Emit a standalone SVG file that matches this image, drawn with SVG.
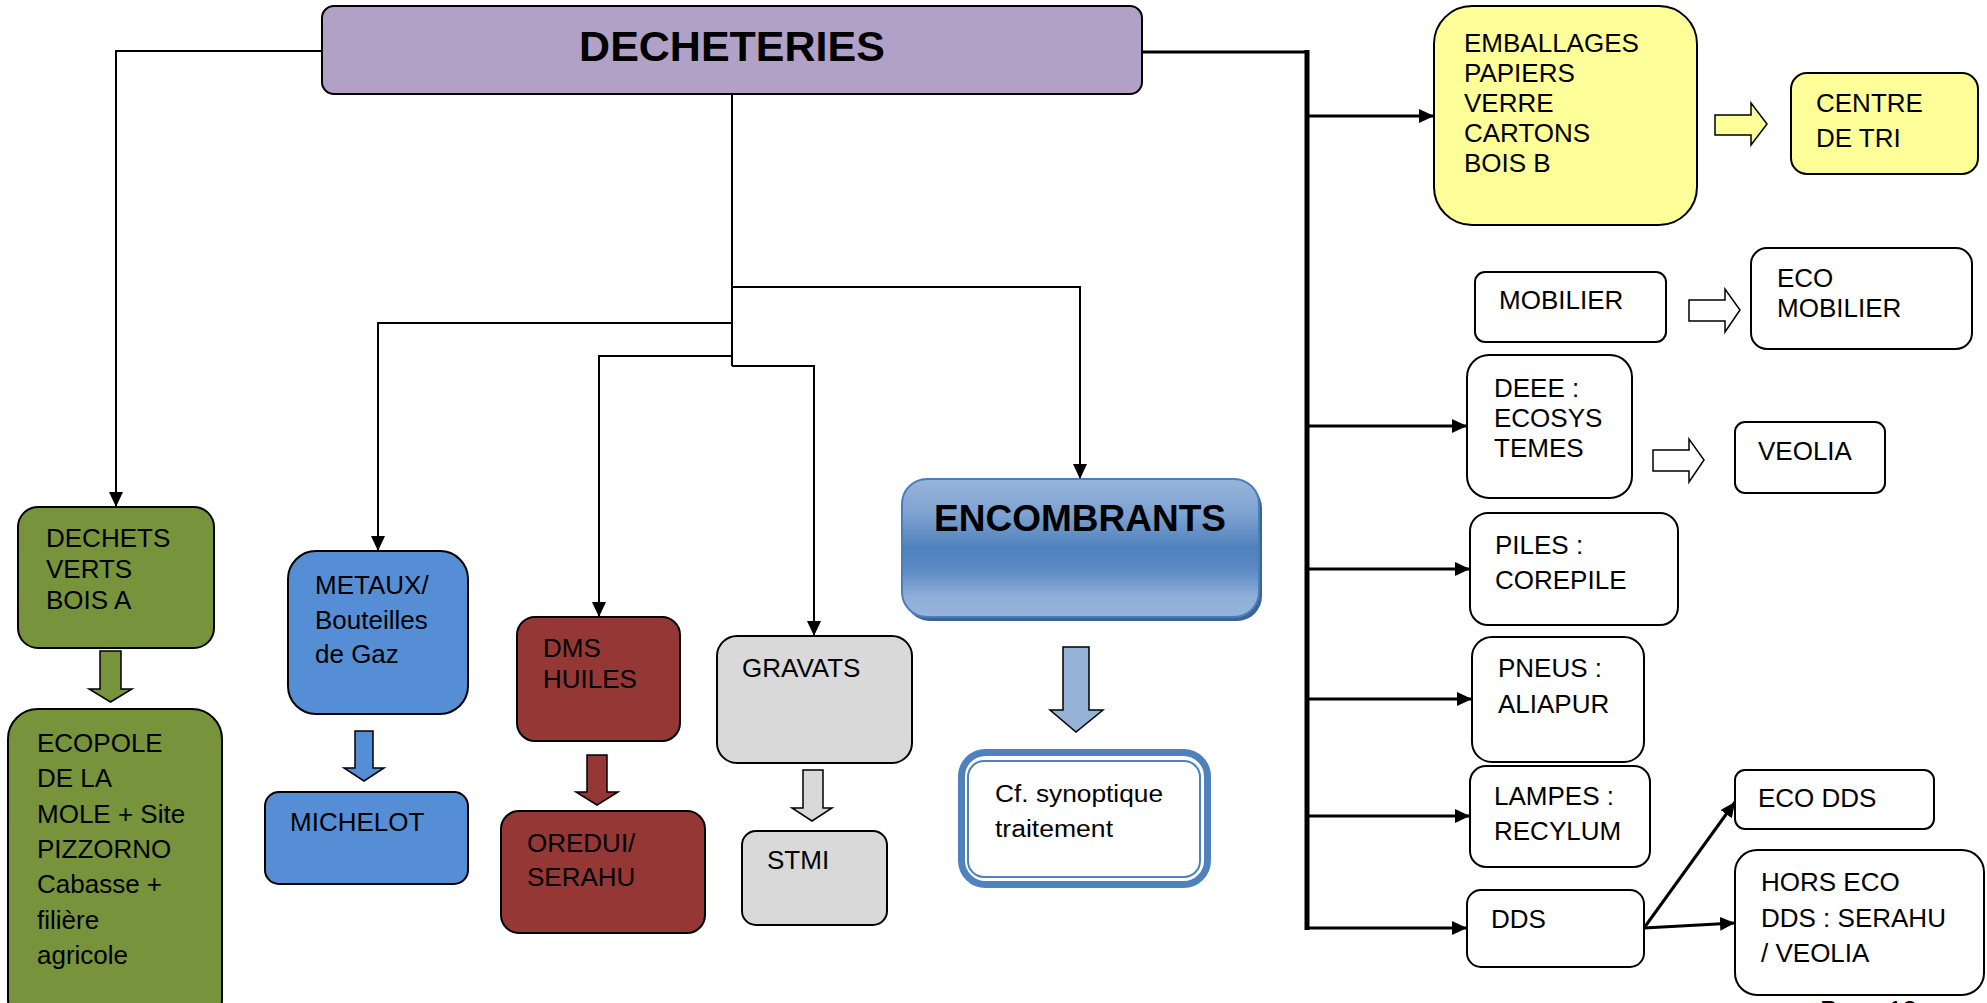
<svg xmlns="http://www.w3.org/2000/svg" width="1987" height="1003" viewBox="0 0 1987 1003">
<style>
text{font-family:"Liberation Sans",Arial,sans-serif;font-size:26px;fill:#000}
.b{stroke:#000;stroke-width:2}
.w{fill:#fff}
.ln{fill:none;stroke:#000;stroke-width:2}
.lr{fill:none;stroke:#000;stroke-width:3}
.blk{stroke:#000;stroke-width:1.5}
</style>
<defs>
<marker id="ah" viewBox="0 0 15 14" refX="15" refY="7" markerWidth="15" markerHeight="14" markerUnits="userSpaceOnUse" orient="auto"><path d="M0,0 L15,7 L0,14 Z" fill="#000"/></marker>
<linearGradient id="eg" x1="0" y1="0" x2="0" y2="1">
<stop offset="0" stop-color="#97B5DB"/>
<stop offset="0.25" stop-color="#7FA2D0"/>
<stop offset="0.5" stop-color="#4F81BD"/>
<stop offset="0.65" stop-color="#5A89C3"/>
<stop offset="0.85" stop-color="#8FAED7"/>
<stop offset="1" stop-color="#97B5DB"/>
</linearGradient>
</defs>
<rect width="1987" height="1003" fill="#fff"/>

<g id="connectors">
<path class="ln" d="M322,51 H116 V507" marker-end="url(#ah)"/>
<path class="ln" d="M732,95 V366"/>
<path class="ln" d="M732,287 H1080 V479" marker-end="url(#ah)"/>
<path class="ln" d="M732,323 H378 V551" marker-end="url(#ah)"/>
<path class="ln" d="M732,356 H599 V617" marker-end="url(#ah)"/>
<path class="ln" d="M732,366 H814 V636" marker-end="url(#ah)"/>
<path class="lr" d="M1142,52 H1307"/>
<path fill="none" stroke="#000" stroke-width="5" d="M1307,50 V930"/>
<path class="lr" d="M1307,116 H1434" marker-end="url(#ah)"/>
<path class="lr" d="M1307,426 H1467" marker-end="url(#ah)"/>
<path class="lr" d="M1307,569 H1470" marker-end="url(#ah)"/>
<path class="lr" d="M1307,699 H1472" marker-end="url(#ah)"/>
<path class="lr" d="M1307,816 H1470" marker-end="url(#ah)"/>
<path class="lr" d="M1305,928 H1467" marker-end="url(#ah)"/>
<path class="lr" d="M1644,928 L1735,802" marker-end="url(#ah)"/>
<path class="lr" d="M1644,928 L1735,923" marker-end="url(#ah)"/>
<path class="blk" fill="#77933C" d="M100,651 H121 V689 H132 L110.5,702 L89,689 H100 Z"/>
<path class="blk" fill="#558ED5" d="M355,731 H373 V768 H384 L364,781 L344,768 H355 Z"/>
<path class="blk" fill="#953735" d="M587,755 H607 V792 H618 L597,805 L576,792 H587 Z"/>
<path class="blk" fill="#D9D9D9" d="M803,770 H823 V808 H832 L812,821 L792,808 H803 Z"/>
<path class="blk" fill="#95B3D7" d="M1063,647 H1089 V710 H1103 L1076,732 L1050,710 H1063 Z"/>
<path class="blk" fill="#FFFF99" d="M1715,115 H1751 V103 L1767,124 L1751,145 V135 H1715 Z"/>
<path class="blk" fill="#fff" d="M1689,300 H1725 V289 L1740,310 L1725,332 V321 H1689 Z"/>
<path class="blk" fill="#fff" d="M1653,450 H1689 V439 L1704,460 L1689,482 V471 H1653 Z"/>
</g>

<g id="decheteries">
<rect class="b" x="322" y="6" width="820" height="88" rx="12" fill="#B2A1C7"/>
<text x="732" y="61" text-anchor="middle" style="font-size:43px;font-weight:bold">DECHETERIES</text>
</g>

<g id="dechets-verts">
<rect class="b" x="18" y="507" width="196" height="141" rx="20" fill="#77933C"/>
<text x="46" y="547">DECHETS</text><text x="46" y="578">VERTS</text><text x="46" y="609">BOIS A</text>
</g>
<g id="ecopole">
<rect class="b" x="8" y="709" width="214" height="320" rx="30" fill="#77933C"/>
<text x="37" y="752">ECOPOLE</text><text x="37" y="787">DE LA</text><text x="37" y="823">MOLE + Site</text><text x="37" y="858">PIZZORNO</text><text x="37" y="893">Cabasse +</text><text x="37" y="929">filière</text><text x="37" y="964">agricole</text>
</g>
<g id="metaux">
<rect class="b" x="288" y="551" width="180" height="163" rx="28" fill="#558ED5"/>
<text x="315" y="594">METAUX/</text><text x="315" y="629">Bouteilles</text><text x="315" y="663">de Gaz</text>
</g>
<g id="michelot">
<rect class="b" x="265" y="792" width="203" height="92" rx="14" fill="#558ED5"/>
<text x="290" y="831">MICHELOT</text>
</g>
<g id="dms">
<rect class="b" x="517" y="617" width="163" height="124" rx="18" fill="#953735"/>
<text x="543" y="657">DMS</text><text x="543" y="688">HUILES</text>
</g>
<g id="oredui">
<rect class="b" x="501" y="811" width="204" height="122" rx="18" fill="#953735"/>
<text x="527" y="852">OREDUI/</text><text x="527" y="886">SERAHU</text>
</g>
<g id="gravats">
<rect class="b" x="717" y="636" width="195" height="127" rx="20" fill="#D9D9D9"/>
<text x="742" y="677">GRAVATS</text>
</g>
<g id="stmi">
<rect class="b" x="742" y="831" width="145" height="94" rx="14" fill="#D9D9D9"/>
<text x="767" y="869">STMI</text>
</g>
<g id="encombrants">
<rect x="905" y="483" width="357" height="138" rx="25" fill="#3A6496"/>
<rect x="902" y="479" width="357" height="138" rx="25" fill="url(#eg)" stroke="#4A7EBB" stroke-width="2"/>
<text x="1080" y="531" text-anchor="middle" style="font-size:37px;font-weight:bold">ENCOMBRANTS</text>
</g>
<g id="synoptique">
<rect x="961.5" y="752.5" width="246" height="132" rx="24" fill="#fff" stroke="#4F81BD" stroke-width="7"/>
<rect x="968" y="761" width="232" height="116" rx="16" fill="none" stroke="#4F81BD" stroke-width="2"/>
<text x="995" y="802" style="font-size:23px" textLength="168" lengthAdjust="spacingAndGlyphs">Cf. synoptique</text>
<text x="995" y="837" style="font-size:23px" textLength="118" lengthAdjust="spacingAndGlyphs">traitement</text>
</g>

<g id="emballages">
<rect class="b" x="1434" y="6" width="263" height="219" rx="38" fill="#FFFF99"/>
<text x="1464" y="52">EMBALLAGES</text><text x="1464" y="82">PAPIERS</text><text x="1464" y="112">VERRE</text><text x="1464" y="142">CARTONS</text><text x="1464" y="172">BOIS B</text>
</g>
<g id="centre-tri">
<rect class="b" x="1791" y="73" width="187" height="101" rx="16" fill="#FFFF99"/>
<text x="1816" y="112">CENTRE</text><text x="1816" y="147">DE TRI</text>
</g>
<g id="mobilier">
<rect class="b w" x="1475" y="272" width="191" height="70" rx="10"/>
<text x="1499" y="309">MOBILIER</text>
</g>
<g id="eco-mobilier">
<rect class="b w" x="1751" y="248" width="221" height="101" rx="16"/>
<text x="1777" y="287">ECO</text><text x="1777" y="317">MOBILIER</text>
</g>
<g id="deee">
<rect class="b w" x="1467" y="355" width="165" height="143" rx="22"/>
<text x="1494" y="397">DEEE :</text><text x="1494" y="427">ECOSYS</text><text x="1494" y="457">TEMES</text>
</g>
<g id="veolia">
<rect class="b w" x="1735" y="422" width="150" height="71" rx="10"/>
<text x="1758" y="460">VEOLIA</text>
</g>
<g id="piles">
<rect class="b w" x="1470" y="513" width="208" height="112" rx="18"/>
<text x="1495" y="554">PILES :</text><text x="1495" y="589">COREPILE</text>
</g>
<g id="pneus">
<rect class="b w" x="1472" y="637" width="172" height="125" rx="20"/>
<text x="1498" y="677">PNEUS :</text><text x="1498" y="713">ALIAPUR</text>
</g>
<g id="lampes">
<rect class="b w" x="1470" y="766" width="180" height="101" rx="16"/>
<text x="1494" y="805">LAMPES :</text><text x="1494" y="840">RECYLUM</text>
</g>
<g id="dds">
<rect class="b w" x="1467" y="890" width="177" height="77" rx="14"/>
<text x="1491" y="928">DDS</text>
</g>
<g id="eco-dds">
<rect class="b w" x="1735" y="770" width="199" height="59" rx="10"/>
<text x="1758" y="807">ECO DDS</text>
</g>
<g id="hors-eco-dds">
<rect class="b w" x="1735" y="850" width="249" height="145" rx="22"/>
<text x="1761" y="891">HORS ECO</text><text x="1761" y="927">DDS : SERAHU</text><text x="1761" y="962">/ VEOLIA</text>
</g>
<text x="1820" y="1019">Page 13</text>
</svg>
